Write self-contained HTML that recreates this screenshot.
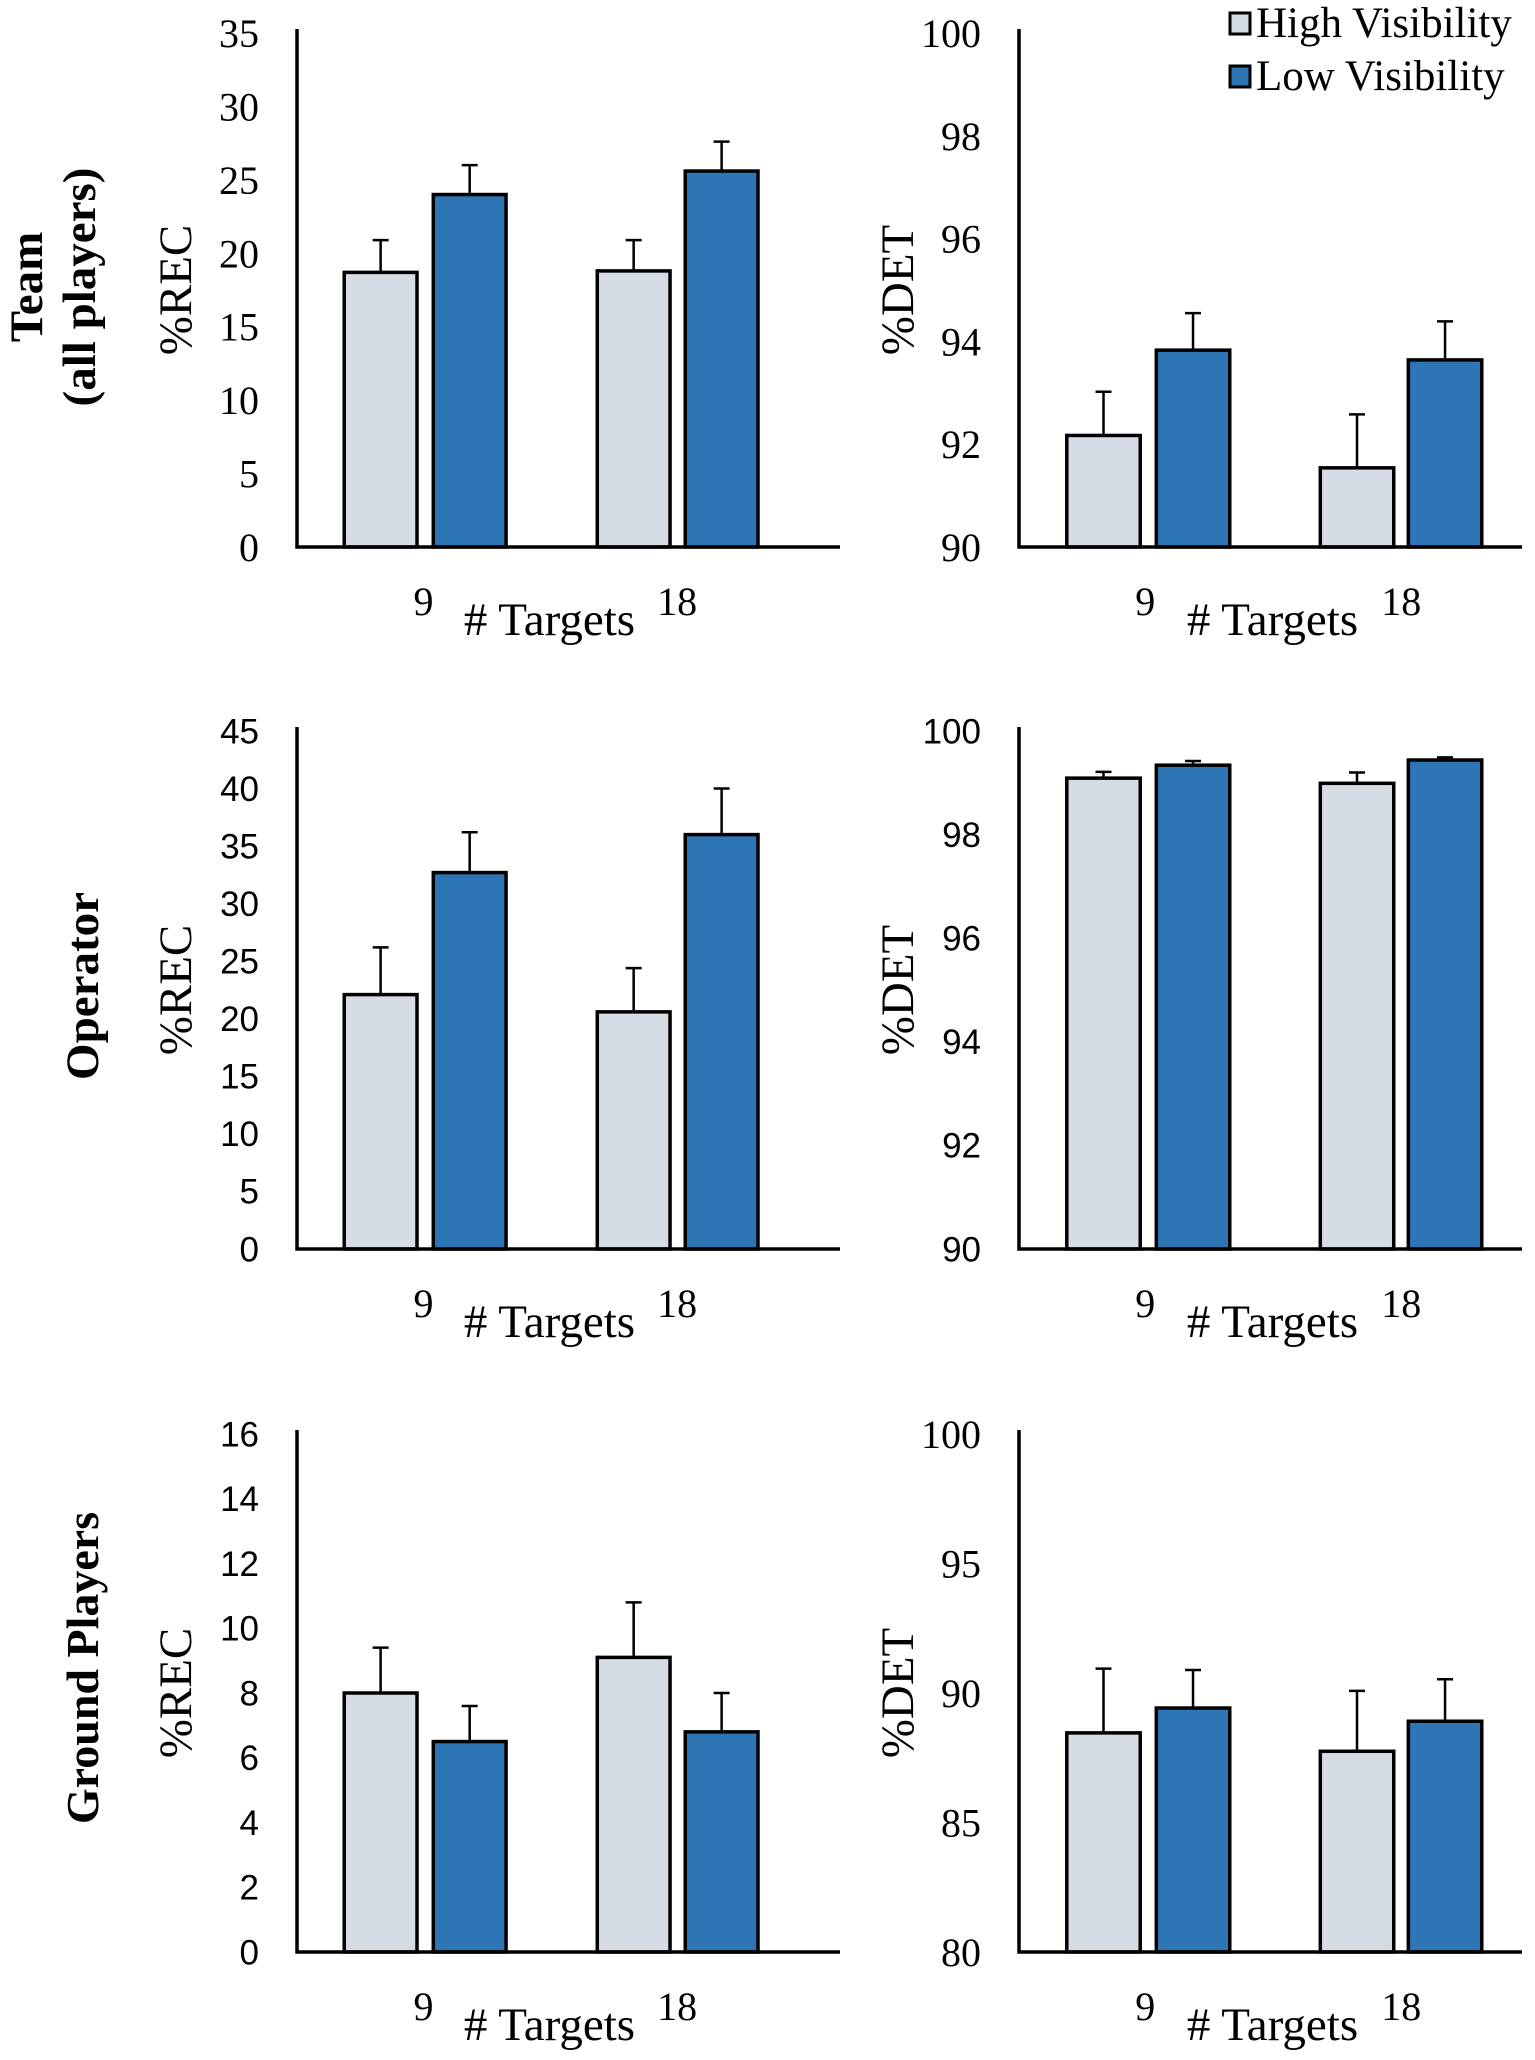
<!DOCTYPE html>
<html><head><meta charset="utf-8"><style>
html,body{margin:0;padding:0;background:#fff;}
svg{display:block;}
.serif{font-family:"Liberation Serif",serif;}
.sans{font-family:"Liberation Sans",sans-serif;}
</style></head><body>
<svg id="fig" width="1535" height="2060" viewBox="0 0 1535 2060" xmlns="http://www.w3.org/2000/svg">
<g class="serif" font-weight="bold" font-size="47" text-anchor="middle">
<text transform="translate(42,287) rotate(-90)">Team</text>
<text transform="translate(95,287) rotate(-90)">(all players)</text>
</g>
<text class="serif" font-weight="bold" font-size="47" text-anchor="middle" transform="translate(98,986) rotate(-90)">Operator</text>
<text class="serif" font-weight="bold" font-size="46" text-anchor="middle" transform="translate(98,1668) rotate(-90)">Ground Players</text>
<g class="serif" font-size="43">
<rect x="1230" y="13" width="20" height="21" fill="#d6dce4" stroke="#000" stroke-width="3"/>
<text x="1256" y="37">High Visibility</text>
<rect x="1230" y="66" width="20" height="21" fill="#2e75b6" stroke="#000" stroke-width="3"/>
<text x="1256" y="90">Low Visibility</text>
</g>
</svg>
<script>
// Data per panel: [High 9, Low 9, High 18, Low 18]
const teamRecValues = [18.7, 24.0, 18.8, 25.6];
const teamRecErrors = [2.2, 2.0, 2.1, 2.0];
const teamDetValues = [92.17, 93.83, 91.54, 93.64];
const teamDetErrors = [0.85, 0.72, 1.04, 0.75];
const opRecValues = [22.1, 32.7, 20.6, 36.0];
const opRecErrors = [4.1, 3.5, 3.8, 4.0];
const opDetValues = [99.09, 99.34, 98.99, 99.44];
const opDetErrors = [0.12, 0.08, 0.21, 0.05];
const gpRecValues = [8.0, 6.5, 9.1, 6.8];
const gpRecErrors = [1.4, 1.1, 1.7, 1.2];
const gpDetValues = [88.46, 89.42, 87.75, 88.91];
const gpDetErrors = [2.48, 1.47, 2.33, 1.62];
const categories = ["9", "18"];
const seriesNames = ["High Visibility", "Low Visibility"];
const recTicks1 = [0,5,10,15,20,25,30,35];
const detTicks1 = [90,92,94,96,98,100];
const recTicks2 = [0,5,10,15,20,25,30,35,40,45];
const detTicks2 = [90,92,94,96,98,100];
const recTicks3 = [0,2,4,6,8,10,12,14,16];
const detTicks3 = [80,85,90,95,100];

const NS = "http://www.w3.org/2000/svg";
const svg = document.getElementById('fig');
function mk(tag, attrs, parent){const e=document.createElementNS(NS,tag);for(const k in attrs)e.setAttribute(k,attrs[k]);(parent||svg).appendChild(e);return e;}

const LAYOUT_L = {bars:[0.087,0.251,0.553,0.715], bw:0.134, lab:[0.233,0.465,0.70]};
const LAYOUT_R = {bars:[0.095,0.273,0.599,0.774], bw:0.146, lab:[0.251,0.504,0.76]};

function panel(name, left, right, top, base, ticks, values, errors, title, tickFont, tickSize, L){
  const g = mk('g', {});
  
  
  const ymin = ticks[0], ymax = ticks[ticks.length-1];
  const y = v => base - (v - ymin) / (ymax - ymin) * (base - top);
  const w = right - left;
  const xBar = i => left + w * L.bars[i];
  const bw = w * L.bw;
  values.forEach((v, i) => {
    const s = i % 2;
    const b = mk('rect', {x: xBar(i), y: y(v), width: bw, height: base - y(v), fill: s ? '#2e75b6' : '#d6dce4', stroke: '#000', 'stroke-width': 3.5}, g);
    
    
    const mx = xBar(i) + bw / 2;
    const e = mk('path', {d: `M${mx},${y(v)} V${y(v + errors[i])} M${mx-8},${y(v + errors[i])} H${mx+8}`, stroke: '#000', 'stroke-width': 2.5, fill: 'none'}, g);
    
    
  });
  const ax = mk('path', {d: `M${left},${top-4} V${base} H${right}`, stroke: '#000', 'stroke-width': 3.5, fill: 'none'}, g);
  
  
  ticks.forEach(t => {
    const tx = mk('text', {x: left - 38, y: y(t) + tickSize * 0.35, 'text-anchor': 'end', 'font-size': tickSize, class: tickFont}, g);
    
    
    tx.textContent = t;
  });
  const yt = mk('text', {transform: `translate(${left - 106},${(top + base) / 2}) rotate(-90)`, 'text-anchor': 'middle', 'font-size': 47, class: 'serif'}, g);
  
  
  yt.textContent = title;
  categories.forEach((c, k) => {
    const t = mk('text', {x: left + w * L.lab[k ? 2 : 0], y: base + 68, 'text-anchor': 'middle', 'font-size': 40, class: 'serif'}, g);
    
    
    t.textContent = c;
  });
  const xt = mk('text', {x: left + w * L.lab[1], y: base + 88, 'text-anchor': 'middle', 'font-size': 47, class: 'serif'}, g);
  
  
  xt.textContent = '# Targets';
}
panel('panel-team-rec', 297, 840, 33, 547, recTicks1, teamRecValues, teamRecErrors, '%REC', 'serif', 40, LAYOUT_L);
panel('panel-team-det', 1019, 1522, 33, 547, detTicks1, teamDetValues, teamDetErrors, '%DET', 'serif', 40, LAYOUT_R);
panel('panel-operator-rec', 297, 840, 731, 1249, recTicks2, opRecValues, opRecErrors, '%REC', 'sans', 35, LAYOUT_L);
panel('panel-operator-det', 1019, 1522, 731, 1249, detTicks2, opDetValues, opDetErrors, '%DET', 'sans', 35, LAYOUT_R);
panel('panel-ground-rec', 297, 840, 1434, 1952, recTicks3, gpRecValues, gpRecErrors, '%REC', 'sans', 35, LAYOUT_L);
panel('panel-ground-det', 1019, 1522, 1434, 1952, detTicks3, gpDetValues, gpDetErrors, '%DET', 'serif', 40, LAYOUT_R);
</script>
</body></html>
